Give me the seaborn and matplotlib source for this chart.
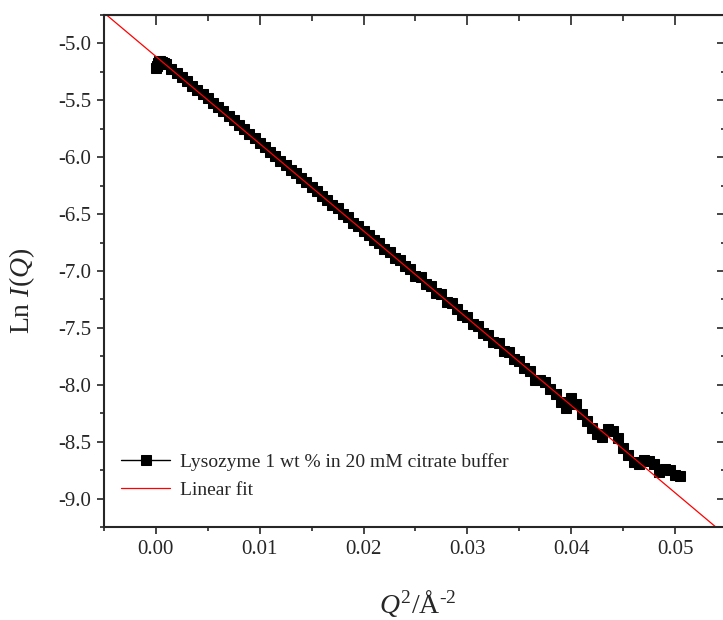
import numpy as np
import pandas as pd
import matplotlib
matplotlib.use("Agg")
import matplotlib.pyplot as plt
from matplotlib.ticker import MultipleLocator
import seaborn as sns

sns.set_style("ticks")
plt.rcParams['font.family'] = ['Liberation Serif', 'DejaVu Serif']
plt.rcParams['mathtext.fontset'] = 'custom'
plt.rcParams['mathtext.rm'] = 'Liberation Serif'
plt.rcParams['mathtext.it'] = 'Liberation Serif:italic'

# Guinier data, Q^2 (1/A^2) and ln I(Q)
q2 = [0.00005, 0.0001, 0.0002, 0.0003, 0.0004, 0.0006, 0.0008, 0.0010,
      0.0015, 0.0020, 0.0025, 0.0030, 0.0035, 0.0040, 0.0045, 0.0050,
      0.0055, 0.0060, 0.0065, 0.0070, 0.0075, 0.0080, 0.0085, 0.0090,
      0.0095, 0.0100, 0.0105, 0.0110, 0.0115, 0.0120, 0.0125, 0.0130,
      0.0135, 0.0140, 0.0145, 0.0150, 0.0155, 0.0160, 0.0165, 0.0170,
      0.0175, 0.0180, 0.0185, 0.0190, 0.0195, 0.0200, 0.0205, 0.0210,
      0.0215, 0.0220, 0.0225, 0.0230, 0.0235, 0.0240, 0.0245, 0.0250,
      0.0255, 0.0260, 0.0265, 0.0270, 0.0275, 0.0280, 0.0285, 0.0290,
      0.0295, 0.0300, 0.0305, 0.0310, 0.0315, 0.0320, 0.0325, 0.0330,
      0.0335, 0.0340, 0.0345, 0.0350, 0.0355, 0.0360, 0.0365, 0.0370,
      0.0375, 0.0380, 0.0385, 0.0390, 0.0395, 0.0400, 0.0405, 0.0410,
      0.0415, 0.0420, 0.0425, 0.0430, 0.0435, 0.0440, 0.0445, 0.0450,
      0.0455, 0.0460, 0.0465, 0.0470, 0.0475, 0.0480, 0.0485, 0.0490,
      0.0495, 0.0500, 0.0505]
ln_i = [-5.215, -5.195, -5.170, -5.155, -5.150, -5.160, -5.172, -5.185,
        -5.222, -5.258, -5.295, -5.330, -5.370, -5.405, -5.445, -5.480,
        -5.520, -5.560, -5.598, -5.640, -5.675, -5.715, -5.752, -5.795,
        -5.830, -5.872, -5.910, -5.950, -5.988, -6.030, -6.065, -6.108,
        -6.142, -6.185, -6.220, -6.262, -6.296, -6.340, -6.372, -6.420,
        -6.450, -6.497, -6.525, -6.575, -6.605, -6.650, -6.680, -6.728,
        -6.755, -6.805, -6.832, -6.885, -6.905, -6.960, -6.980, -7.040,
        -7.055, -7.110, -7.130, -7.195, -7.205, -7.270, -7.285, -7.330,
        -7.385, -7.400, -7.470, -7.480, -7.545, -7.560, -7.625, -7.630,
        -7.700, -7.710, -7.775, -7.790, -7.850, -7.880, -7.960, -7.960,
        -7.975, -8.040, -8.080, -8.150, -8.200, -8.115, -8.170, -8.260,
        -8.320, -8.380, -8.430, -8.460, -8.390, -8.410, -8.470, -8.560,
        -8.620, -8.680, -8.700, -8.660, -8.670, -8.700, -8.770, -8.740,
        -8.750, -8.790, -8.800]

# linear fit parameters
fit_intercept = -5.114
fit_slope = -76.7

x_lim = (-0.005, 0.055)
y_lim = (-9.25, -4.75)

df = pd.DataFrame({"q2": q2, "lnI": ln_i})
fit_x = np.array(x_lim)
fit_df = pd.DataFrame({"q2": fit_x, "lnI": fit_intercept + fit_slope * fit_x})

fig = plt.figure(figsize=(7.23, 6.2), dpi=100)
ax = fig.add_axes([0.1438, 0.15, 0.8617, 0.8258])

sns.lineplot(data=df, x="q2", y="lnI", ax=ax, color="black", linewidth=1.0,
             marker="s", markersize=7.5, markeredgecolor="black",
             markerfacecolor="black", sort=False,
             label="Lysozyme 1 wt % in 20 mM citrate buffer")
sns.lineplot(data=fit_df, x="q2", y="lnI", ax=ax, color="red", linewidth=0.9,
             label="Linear fit")

ax.set_xlim(*x_lim)
ax.set_ylim(*y_lim)
ax.xaxis.set_major_locator(MultipleLocator(0.01))
ax.xaxis.set_minor_locator(MultipleLocator(0.005))
ax.yaxis.set_major_locator(MultipleLocator(0.5))
ax.yaxis.set_minor_locator(MultipleLocator(0.25))
ax.xaxis.set_major_formatter(matplotlib.ticker.FormatStrFormatter('%.2f'))
ax.yaxis.set_major_formatter(matplotlib.ticker.FormatStrFormatter('%.1f'))

for s in ax.spines.values():
    s.set_linewidth(1.5)
    s.set_visible(True)

ax.tick_params(which='major', direction='out', length=5, width=1.2, labelsize=15, pad=4)
ax.tick_params(which='minor', direction='out', length=3, width=1.2)

# inward ticks on top and right
top = ax.secondary_xaxis('top')
top.xaxis.set_major_locator(MultipleLocator(0.01))
top.xaxis.set_minor_locator(MultipleLocator(0.005))
top.tick_params(which='major', direction='in', length=7, width=1.2, labeltop=False)
top.tick_params(which='minor', direction='in', length=4, width=1.2)
right = ax.secondary_yaxis('right')
right.yaxis.set_major_locator(MultipleLocator(0.5))
right.yaxis.set_minor_locator(MultipleLocator(0.25))
right.tick_params(which='major', direction='in', length=7, width=1.2, labelright=False)
right.tick_params(which='minor', direction='in', length=4, width=1.2)

ax.set_ylabel("Ln $I$($Q$)", fontsize=20)
ax.set_xlabel(r"$Q^2$/Å$^{\text{-2}}$", fontsize=20)
ax.yaxis.set_label_coords(-0.108, 0.461)
ax.xaxis.set_label_coords(0.504, -0.119)
ax.xaxis.label.set_va('top')

ax.legend(loc='lower left', bbox_to_anchor=(0.0, 0.02), frameon=False,
          fontsize=14, numpoints=1, handlelength=2.5, handletextpad=0.5,
          labelspacing=0.55, borderaxespad=0.5)

fig.savefig("out.png", dpi=100)
